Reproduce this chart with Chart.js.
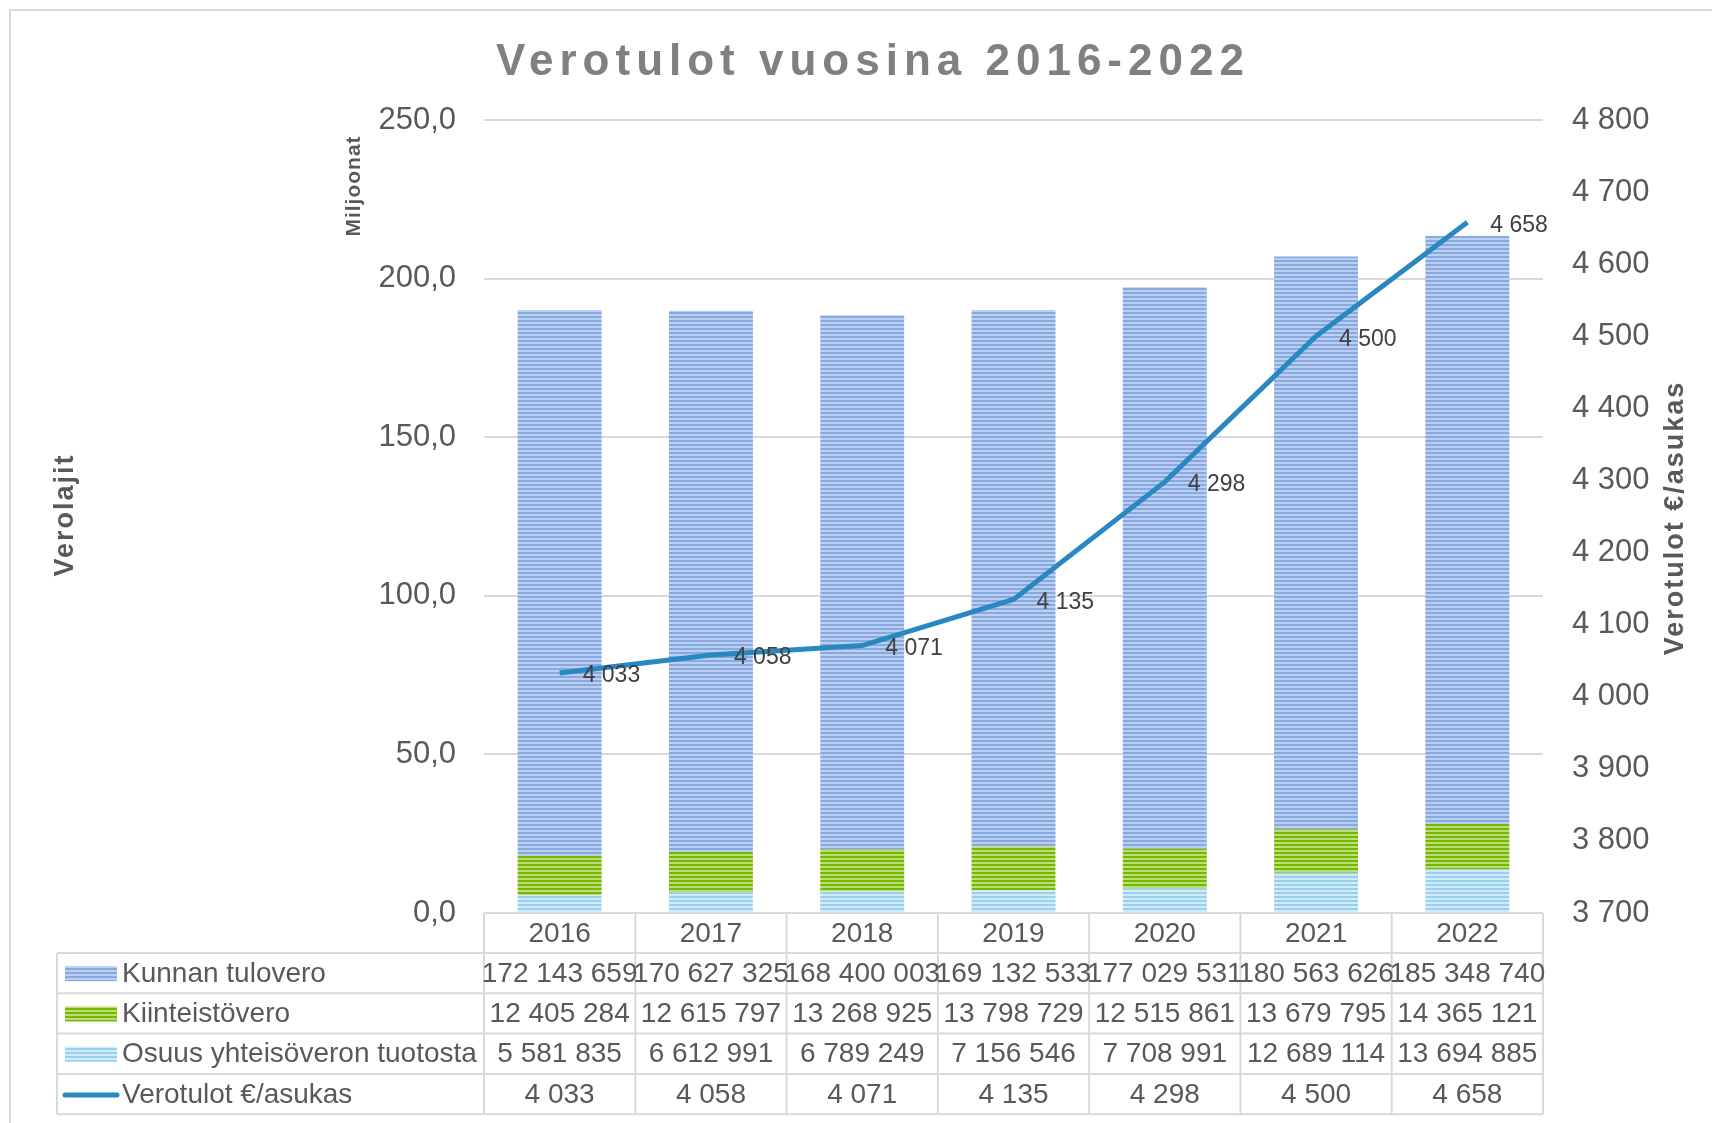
<!DOCTYPE html>
<html lang="fi">
<head>
<meta charset="utf-8">
<title>Verotulot vuosina 2016-2022</title>
<script src="https://cdn.jsdelivr.net/npm/chart.js@4/dist/chart.umd.min.js"></script>
<style>
  html, body { margin: 0; padding: 0; background: #fff; }
  canvas { display: block; }
</style>
</head>
<body>
<canvas id="verotulot" width="1712" height="1123"></canvas>
<script>
const years = ['2016', '2017', '2018', '2019', '2020', '2021', '2022'];
const kunnanTulovero = [172143659, 170627325, 168400003, 169132533, 177029531, 180563626, 185348740];
const kiinteistovero = [12405284, 12615797, 13268925, 13798729, 12515861, 13679795, 14365121];
const yhteisovero = [5581835, 6612991, 6789249, 7156546, 7708991, 12689114, 13694885];
const perAsukas = [4033, 4058, 4071, 4135, 4298, 4500, 4658];

const FONT = '"Liberation Sans", Arial, sans-serif';
const TEXT = '#595959';
const GRID = '#d9d9d9';
const LINE_COLOR = '#2a88c1';

// narrow horizontal stripe fill, like the office chart patterns
function stripes(fg, bg) {
    const c = document.createElement('canvas');
    c.width = 4; c.height = 4;
    const g = c.getContext('2d');
    g.fillStyle = bg; g.fillRect(0, 0, 4, 4);
    g.fillStyle = fg; g.fillRect(0, 0, 4, 2);
    return g.createPattern(c, 'repeat');
}

const blueFill = stripes('#86a9e0', '#bccff2');
const greenFill = stripes('#76b800', '#bcdd78');
const lightFill = stripes('#9ad0ef', '#d2ebf9');

const toMillions = arr => arr.map(v => v / 1e6);
const spaced = n => String(n).replace(/\B(?=(\d{3})+(?!\d))/g, ' ');

// rows of the data table under the plot
const tableRows = [
    { label: 'Kunnan tulovero', values: kunnanTulovero, fill: blueFill },
    { label: 'Kiinteistövero', values: kiinteistovero, fill: greenFill },
    { label: 'Osuus yhteisöveron tuotosta', values: yhteisovero, fill: lightFill },
    { label: 'Verotulot €/asukas', values: perAsukas, line: true }
];

const decorations = {
    id: 'decorations',
    beforeDraw(chart) {
        const ctx = chart.ctx;
        ctx.save();
        ctx.strokeStyle = GRID;
        ctx.lineWidth = 2;
        ctx.beginPath();
        ctx.moveTo(10, 1123); ctx.lineTo(10, 10); ctx.lineTo(1712, 10);
        ctx.stroke();
        ctx.restore();
    },
    afterDatasetsDraw(chart) {
        const ctx = chart.ctx;
        const meta = chart.getDatasetMeta(3);
        ctx.save();
        ctx.fillStyle = '#404040';
        ctx.font = '23px ' + FONT;
        ctx.textAlign = 'left';
        ctx.textBaseline = 'middle';
        meta.data.forEach((pt, i) => {
            ctx.fillText(spaced(perAsukas[i]), pt.x + 23, pt.y + 3);
        });
        ctx.restore();
    },
    afterDraw(chart) {
        const ctx = chart.ctx;
        const area = chart.chartArea;
        const xs = chart.scales.x;
        const colW = (area.right - area.left) / years.length;
        const top = area.bottom;
        const headH = 40;
        const rowH = 40.3;
        const legendLeft = 57;
        const tableBottom = top + headH + rowH * tableRows.length;

        ctx.save();

        // title
        ctx.fillStyle = '#808080';
        ctx.font = 'bold 44px ' + FONT;
        ctx.letterSpacing = '6px';
        ctx.textAlign = 'center';
        ctx.textBaseline = 'middle';
        ctx.fillText('Verotulot vuosina 2016-2022', 873, 63);
        ctx.letterSpacing = '0px';

        // axis titles
        const vertical = (text, x, y, font, spacing) => {
            ctx.save();
            ctx.translate(x, y);
            ctx.rotate(-Math.PI / 2);
            ctx.font = font;
            ctx.letterSpacing = spacing;
            ctx.fillStyle = TEXT;
            ctx.textAlign = 'center';
            ctx.textBaseline = 'middle';
            ctx.fillText(text, 0, 0);
            ctx.restore();
        };
        vertical('Verolajit', 66, 515, 'bold 27px ' + FONT, '2px');
        vertical('Miljoonat', 354, 186, 'bold 21px ' + FONT, '1px');
        vertical('Verotulot €/asukas', 1676, 518, 'bold 27px ' + FONT, '2px');

        // table grid
        ctx.strokeStyle = GRID;
        ctx.lineWidth = 2;
        ctx.beginPath();
        ctx.moveTo(area.left, top); ctx.lineTo(area.right, top);
        for (let r = 0; r <= tableRows.length; r++) {
            const y = top + headH + r * rowH;
            ctx.moveTo(legendLeft, y); ctx.lineTo(area.right, y);
        }
        for (let c = 0; c <= years.length; c++) {
            const x = area.left + c * colW;
            ctx.moveTo(x, top); ctx.lineTo(x, tableBottom);
        }
        ctx.moveTo(legendLeft, top + headH); ctx.lineTo(legendLeft, tableBottom);
        ctx.stroke();

        // header and cells
        ctx.fillStyle = TEXT;
        ctx.font = '28px ' + FONT;
        ctx.textBaseline = 'middle';
        ctx.textAlign = 'center';
        years.forEach((yr, i) => {
            ctx.fillText(yr, xs.getPixelForValue(i), top + headH / 2 + 1);
        });
        tableRows.forEach((row, r) => {
            const cy = top + headH + r * rowH + rowH / 2 + 1;
            ctx.textAlign = 'center';
            ctx.fillStyle = TEXT;
            row.values.forEach((v, i) => {
                ctx.fillText(spaced(v), xs.getPixelForValue(i), cy);
            });
            // legend key
            if (row.line) {
                ctx.strokeStyle = LINE_COLOR;
                ctx.lineWidth = 5;
                ctx.lineCap = 'round';
                ctx.beginPath();
                ctx.moveTo(65, cy); ctx.lineTo(117, cy);
                ctx.stroke();
            } else {
                ctx.fillStyle = row.fill;
                ctx.fillRect(65, cy - 8, 52, 15);
            }
            ctx.fillStyle = TEXT;
            ctx.textAlign = 'left';
            ctx.fillText(row.label, 122, cy);
        });

        ctx.restore();
    }
};

new Chart(document.getElementById('verotulot').getContext('2d'), {
    type: 'bar',
    data: {
        labels: years,
        datasets: [
            { label: 'Osuus yhteisöveron tuotosta', data: toMillions(yhteisovero), backgroundColor: lightFill, yAxisID: 'y', order: 1 },
            { label: 'Kiinteistövero', data: toMillions(kiinteistovero), backgroundColor: greenFill, yAxisID: 'y', order: 1 },
            { label: 'Kunnan tulovero', data: toMillions(kunnanTulovero), backgroundColor: blueFill, yAxisID: 'y', order: 1 },
            {
                type: 'line',
                label: 'Verotulot €/asukas',
                data: perAsukas,
                yAxisID: 'y1',
                borderColor: LINE_COLOR,
                borderWidth: 5,
                pointRadius: 0,
                tension: 0,
                order: 0
            }
        ]
    },
    options: {
        responsive: false,
        maintainAspectRatio: false,
        animation: false,
        layout: { padding: { top: 120, bottom: 210, left: 0, right: 0 } },
        datasets: {
            bar: { categoryPercentage: 1, barPercentage: 0.555 }
        },
        scales: {
            x: {
                stacked: true,
                display: false
            },
            y: {
                stacked: true,
                position: 'left',
                min: 0,
                max: 250,
                ticks: {
                    stepSize: 50,
                    padding: 28,
                    color: TEXT,
                    font: { family: FONT, size: 31 },
                    callback: v => v.toFixed(1).replace('.', ',')
                },
                grid: { color: GRID, lineWidth: 2, drawTicks: false },
                border: { display: false },
                afterFit(scale) { scale.width = 484; }
            },
            y1: {
                position: 'right',
                min: 3700,
                max: 4800,
                ticks: {
                    stepSize: 100,
                    padding: 29,
                    color: TEXT,
                    font: { family: FONT, size: 31 },
                    callback: v => spaced(v)
                },
                grid: { display: false, drawTicks: false },
                border: { display: false },
                afterFit(scale) { scale.width = 169; }
            }
        },
        plugins: {
            legend: { display: false },
            tooltip: { enabled: false }
        }
    },
    plugins: [decorations]
});
</script>
</body>
</html>
